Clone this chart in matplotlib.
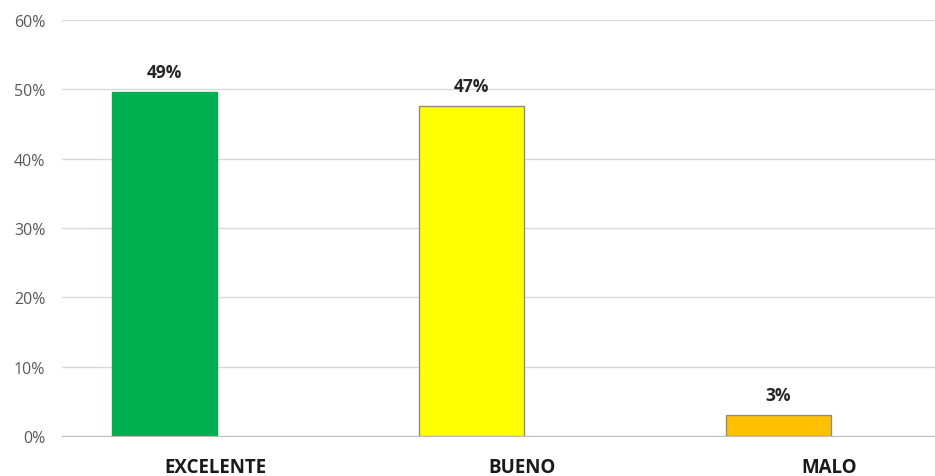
import matplotlib.pyplot as plt
from matplotlib.ticker import PercentFormatter

categorias = ['EXCELENTE', 'BUENO', 'MALO']
valores = [0.496, 0.476, 0.031]
etiquetas = ['49%', '47%', '3%']
colores = ['#00B050', '#FFFF00', '#FFC000']
bordes = ['#00B050', '#8C8C8C', '#8C8C8C']

plt.rcParams['font.family'] = ['Open Sans', 'DejaVu Sans']

fig = plt.figure(figsize=(9.35, 4.77), dpi=100)
ax = fig.add_axes([62 / 935, 0.0832, 921 / 935, 0.8734])

x = range(len(categorias))
pos = [i - 0.166 for i in x]
barras = ax.bar(pos, valores, width=0.34, color=colores, edgecolor=bordes, linewidth=1, zorder=3)

for b, txt in zip(barras, etiquetas):
    ax.annotate(txt, (b.get_x() + b.get_width() / 2, b.get_height()),
                xytext=(0, 7.5), textcoords='offset points', ha='center', va='bottom',
                fontsize=12.5, fontweight='bold', color='#262626')

ax.set_xlim(-0.5, 2.5)
ax.set_ylim(0, 0.6)
ax.set_yticks([0, 0.1, 0.2, 0.3, 0.4, 0.5, 0.6])
ax.yaxis.set_major_formatter(PercentFormatter(1.0, decimals=0))
ax.set_xticks(list(x))
ax.set_xticklabels(categorias, fontsize=13.5, fontweight='bold', color='#1a1a1a')

ax.grid(axis='y', color='#D9D9D9', linewidth=1, zorder=0)
for s in ['top', 'right', 'left']:
    ax.spines[s].set_visible(False)
ax.spines['bottom'].set_color('#BFBFBF')
ax.tick_params(axis='y', length=0, pad=12, labelsize=11.5, labelcolor='#595959')
ax.tick_params(axis='x', length=0, pad=15)

fig.savefig('out.png', dpi=100)
